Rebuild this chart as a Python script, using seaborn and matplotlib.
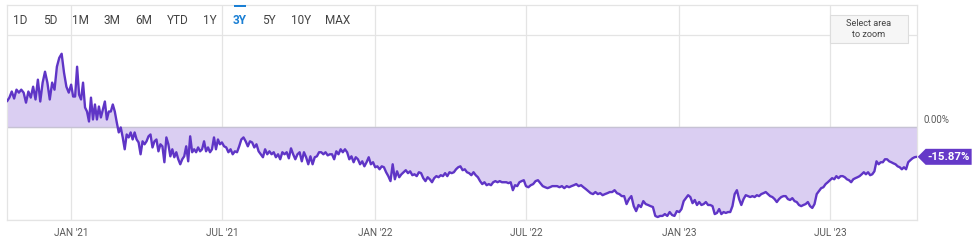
import numpy as np
import pandas as pd
import matplotlib
matplotlib.use("Agg")
import matplotlib.pyplot as plt
import matplotlib.dates as mdates
from matplotlib.patches import Polygon, Rectangle
from matplotlib.transforms import IdentityTransform
import seaborn as sns

# ---------------- data ----------------
range_buttons = ["1D", "5D", "1M", "3M", "6M", "YTD", "1Y", "3Y", "5Y", "10Y", "MAX"]
active_button = "3Y"
tick_dates = ["2021-01-01", "2021-07-01", "2022-01-01", "2022-07-01", "2023-01-01", "2023-07-01"]
tick_labels = ["JAN '21", "JUL '21", "JAN '22", "JUL '22", "JAN '23", "JUL '23"]
block_edges = ["2020-10-16", "2021-01-01", "2021-07-01", "2022-01-01",
               "2022-07-01", "2023-01-01", "2023-07-01", "2023-10-13"]

ret_q4_2020 = [14.1, 16.1, 19.4, 15.6, 20.4, 18.8, 20.4, 18.8, 13.4, 19.4, 16.1, 22.0, 15.1, 25.8,
               14.0, 24.2, 30.1, 24.2, 15.1, 24.2, 20.4, 32.8, 37.6, 39.8, 29.6, 22.0, 18.8]
ret_h1_2021 = [23.1, 16.7, 16.7, 32.8, 17.7, 15.1, 24.2, 10.8, 8.6, 3.2, 16.1, 4.3, 12.4, 4.3,
               11.3, 5.4, 9.7, 14.0, 4.3, 8.6, 8.6, 12.4, 8.6, 2.7, -2.7, 0.0, -5.4, -11.8, -3.8,
               -5.4, -2.7, -6.5, -2.7, -6.5, -8.1, -14.5, -7.5, -9.1, -7.5, -4.8, -3.8, -10.8,
               -7.5, -6.5, -12.9, -9.1, -10.2, -18.8, -5.4, -9.1, -15.6, -11.8, -16.1, -13.4,
               -17.2, -19.9, -17.2, -15.6, -10.2, -18.3, -4.8, -13.4, -11.8, -13.4, -10.8, -12.9,
               -11.8, -7.5, -12.9, -10.8, -13.4, -11.8, -5.4, -11.8, -6.5, -9.1]
ret_h2_2021 = [-8.1, -10.2, -10.8, -13.4, -11.8, -14.5, -12.9, -13.4, -10.2, -6.5, -5.4, -7.5,
               -10.2, -7.5, -8.1, -10.8, -9.1, -12.9, -14.5, -16.1, -11.8, -14.5, -12.9, -14.5,
               -13.4, -16.1, -14.5, -17.2, -13.4, -14.5, -13.4, -16.7, -11.3, -14.5, -17.2, -14.5,
               -13.4, -18.3, -13.4, -16.1, -19.9, -15.6, -19.9, -16.1, -15.6, -13.4, -13.4, -14.5,
               -13.4, -15.1, -14.5, -14.5, -17.2, -12.9, -14.5, -11.8, -13.4, -11.8, -13.4, -17.2,
               -15.6, -18.8, -16.1, -17.2, -19.9, -18.3, -21.0, -18.8, -16.1, -19.9, -18.8]
ret_h1_2022 = [-21.5, -21.0, -22.6, -21.0, -21.5, -24.2, -26.3, -29.0, -19.9, -28.0, -23.7, -26.9,
               -25.3, -24.2, -23.1, -24.7, -23.7, -25.8, -25.3, -26.3, -24.2, -24.7, -27.4, -29.0,
               -26.9, -28.0, -29.6, -27.4, -26.3, -26.9, -25.8, -26.3, -24.7, -26.3, -24.2, -24.7,
               -24.2, -22.6, -21.5, -21.0, -23.1, -22.6, -24.2, -24.7, -25.8, -24.2, -25.8, -26.9,
               -29.0, -30.6, -29.6, -31.2, -30.6, -31.2, -29.6, -29.0, -29.6, -29.0, -29.6, -29.6,
               -29.6, -30.1, -29.6, -33.9, -31.2, -31.7, -29.6, -29.0, -28.5]
ret_h2_2022 = [-31.7, -32.3, -31.2, -30.6, -29.0, -28.5, -30.1, -31.7, -32.3, -32.8, -32.3, -31.7,
               -31.7, -31.7, -32.3, -31.7, -32.8, -31.7, -32.3, -31.7, -31.2, -30.6, -31.7, -31.2,
               -32.3, -33.3, -34.4, -35.5, -36.0, -34.9, -36.0, -35.5, -36.6, -36.0, -35.5, -34.9,
               -34.9, -33.9, -35.5, -36.0, -37.1, -37.1, -41.4, -38.7, -37.1, -42.5, -45.2, -41.9,
               -43.0, -39.8, -41.4, -41.9, -42.5, -43.0, -47.8, -48.4, -47.8, -47.8, -46.8, -47.8,
               -45.7, -47.3, -47.8, -45.2]
ret_h1_2023 = [-45.7, -44.1, -39.8, -38.2, -36.6, -37.6, -40.9, -39.2, -41.9, -40.3, -41.9, -41.4,
               -40.3, -41.9, -41.9, -42.5, -46.8, -46.2, -44.1, -46.8, -45.7, -46.2, -45.7, -45.7,
               -42.5, -36.0, -33.9, -38.7, -41.9, -38.7, -36.6, -37.1, -37.6, -37.1, -37.6, -36.6,
               -37.1, -36.0, -35.5, -34.9, -36.0, -37.1, -37.6, -38.7, -40.3, -38.7, -37.6, -37.1,
               -37.1, -38.7, -39.2, -38.2, -39.8, -40.3, -41.9, -42.5, -41.9, -41.4, -40.3, -42.5,
               -43.5, -41.4, -36.0, -34.4, -32.8, -32.3, -30.6, -29.6]
ret_q3_2023 = [-28.5, -27.4, -28.0, -26.3, -27.4, -26.3, -26.3, -26.9, -28.0, -28.5, -29.6, -28.0,
               -27.4, -26.9, -26.3, -25.3, -24.2, -25.3, -24.2, -25.8, -25.3, -23.7, -18.3, -19.9,
               -18.8, -18.8, -17.2, -17.2, -18.3, -18.8, -19.4, -19.9, -21.0, -21.5, -22.6, -21.5,
               -22.6, -18.8, -17.7, -16.7, -16.1, -15.87]

blocks = [ret_q4_2020, ret_h1_2021, ret_h2_2021, ret_h1_2022, ret_h2_2022, ret_h1_2023, ret_q3_2023]

dates_parts = []
for i, blk in enumerate(blocks):
    last = i == len(blocks) - 1
    rng = pd.date_range(block_edges[i], block_edges[i + 1], periods=len(blk) + (0 if last else 1))
    dates_parts.append(rng if last else rng[:-1])
dates = dates_parts[0].append(dates_parts[1:])
values = np.concatenate([np.array(b, dtype=float) for b in blocks])
df = pd.DataFrame({"date": dates, "ret": values})

# ---------------- style ----------------
W, H = 974, 247
sns.set_theme(style="white")
plt.rcParams["font.family"] = ["Roboto", "DejaVu Sans"]

line_c = "#5f35c6"
fill_c = "#dacef2"
grid_c = "#e4e4e4"
text_c = "#5a5a5a"

fig = plt.figure(figsize=(W / 100, H / 100), dpi=100)
ax = fig.add_axes([7 / W, 1 - 220 / H, 910 / W, 215 / H])

ax.fill_between(df["date"], df["ret"], 0, color=fill_c, linewidth=0, zorder=1)
ax.axhline(0, color="#c6c2d4", lw=1.0, zorder=2)
sns.lineplot(data=df, x="date", y="ret", ax=ax, color=line_c, linewidth=1.7, zorder=3)

ax.set_xlim(pd.Timestamp("2020-10-16"), pd.Timestamp("2023-10-13 10:00"))
ax.set_ylim(-49.46, 66.13)
ax.set_yticks([-50, 0, 50])
ax.set_yticklabels([])
ax.set_xticks(pd.to_datetime(tick_dates))
ax.set_xticklabels(tick_labels)
ax.tick_params(axis="x", length=0, pad=5.5, labelsize=7.2, labelcolor=text_c)
ax.tick_params(axis="y", length=0)
ax.grid(True, color=grid_c, lw=0.9)
ax.set_xlabel("")
ax.set_ylabel("")
for s in ax.spines.values():
    s.set_color(grid_c)
    s.set_linewidth(0.9)

# right axis label for 0
ax.annotate("0.00%", xy=(1, 0), xycoords=("axes fraction", "data"), xytext=(4.5, 1.5),
            textcoords="offset points", ha="left", va="bottom", fontsize=7, color=text_c,
            annotation_clip=False)

# range buttons
btn_x = [20, 50, 80, 111.5, 144, 178, 210, 240, 269, 301, 338]
for lbl, bx in zip(range_buttons, btn_x):
    act = lbl == active_button
    fig.text(bx / W, 1 - 21 / H, lbl, ha="center", va="center", fontsize=8.5,
             color="#1a7fd4" if act else "#444444", fontweight="bold" if act else "normal")
    if act:
        fig.patches.append(Rectangle(((bx - 6.5) / W, 1 - 7.5 / H), 13 / W, 2.5 / H,
                                     transform=fig.transFigure, color="#1a7fd4", lw=0))

# zoom hint box
fig.patches.append(Rectangle((830 / W, 1 - 43 / H), 78 / W, 28 / H, transform=fig.transFigure,
                             facecolor="#f6f6f6", edgecolor="#dddddd", lw=0.8))
fig.text(869 / W, 1 - 23.5 / H, "Select area", ha="center", va="center", fontsize=6.6, color="#444444")
fig.text(869 / W, 1 - 34.5 / H, "to zoom", ha="center", va="center", fontsize=6.6, color="#444444")

# last value tag
fig.canvas.draw()
px, py = ax.transData.transform((mdates.date2num(df["date"].iloc[-1]), df["ret"].iloc[-1]))
hh = 8
verts = [(px + 1, py), (px + 9, py + hh), (px + 55, py + hh), (px + 55, py - hh), (px + 9, py - hh)]
fig.patches.append(Polygon(verts, closed=True, transform=IdentityTransform(),
                           facecolor="#6539c8", edgecolor="none"))
fig.text(px + 32, py, f"{df['ret'].iloc[-1]:.2f}%", transform=IdentityTransform(),
         ha="center", va="center", fontsize=8.2, fontweight="bold", color="white")

fig.savefig("out.png", dpi=100)
